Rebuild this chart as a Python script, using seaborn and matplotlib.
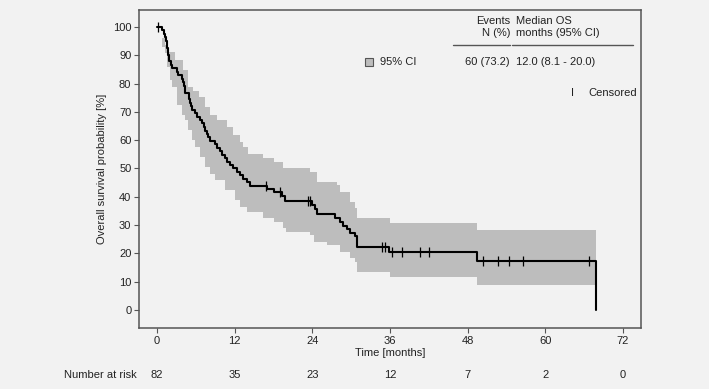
import numpy as np
import matplotlib
matplotlib.use("Agg")
import matplotlib.pyplot as plt
from matplotlib.lines import Line2D
from matplotlib.patches import Rectangle
import seaborn as sns

# Kaplan-Meier steps (time in months, survival in %)
km_time = [0, 0.7, 1.0, 1.2, 1.35, 1.5, 1.6, 1.7, 1.8, 1.9, 2.1, 2.25, 3.0, 3.3,
           3.9, 4.0, 4.1, 4.3, 4.9, 5.0, 5.1, 5.25, 5.4, 5.9, 6.1, 6.6, 7.0, 7.2,
           7.4, 7.7, 7.9, 8.2, 9.0, 9.2, 9.7, 10.0, 10.5, 10.8, 11.3, 11.8, 12.3,
           12.8, 13.3, 13.9, 14.3, 17.0, 18.0, 19.3, 19.8, 23.9, 24.4, 24.7, 27.5,
           28.3, 28.8, 29.3, 29.8, 30.6, 30.9, 35.9, 49.4, 67.8]
km_surv = [100, 98.8, 97.6, 96.3, 95.1, 93.9, 92.7, 90.2, 89.0, 87.8, 86.6, 85.4,
           84.1, 82.9, 81.7, 80.5, 79.3, 76.8, 75.6, 74.4, 73.2, 72.0, 70.7, 69.5,
           68.3, 67.1, 65.9, 64.6, 63.4, 62.2, 61.0, 59.8, 58.5, 57.3, 56.1, 54.9,
           53.7, 52.4, 51.2, 50.0, 48.8, 47.6, 46.3, 45.1, 43.9, 42.8, 41.6, 40.3,
           38.6, 37.1, 35.5, 33.8, 32.4, 31.1, 29.8, 28.6, 27.3, 26.0, 22.4, 20.6,
           17.3, 0]

# censored observations
cens_time = [0.1, 16.9, 19.0, 23.4, 23.6, 34.8, 35.3, 36.3, 37.8, 40.6, 42.1,
             50.3, 52.7, 54.4, 56.5, 66.7]
cens_surv = [100, 43.9, 41.6, 38.6, 38.6, 22.4, 22.4, 20.6, 20.6, 20.6, 20.6,
             17.3, 17.3, 17.3, 17.3, 17.3]

# 95% confidence band (step function)
ci_time = [0.7, 1.2, 1.5, 1.75, 2.0, 2.27, 2.8, 3.0, 3.8, 4.07, 4.3, 4.84, 5.4,
           5.6, 5.9, 6.4, 6.6, 7.4, 8.2, 9.0, 9.2, 10.5, 10.8, 11.8, 12.1, 12.8,
           13.3, 13.9, 14.1, 16.4, 18.0, 19.5, 20.0, 23.6, 24.2, 24.7, 26.2, 27.8,
           28.3, 29.8, 30.6, 30.9, 36.0, 49.4, 67.8]
ci_low = [93, 90.7, 86, 86, 81.3, 78.9, 78.9, 72.4, 68.9, 68.9, 67.1, 63.6, 60.1,
          60.1, 57.7, 57.7, 54.2, 50.6, 48.0, 45.9, 45.9, 42.4, 42.4, 42.4, 38.9,
          36.5, 36.5, 34.7, 34.7, 32.4, 31.2, 28.9, 27.7, 26.5, 24.1, 24.1, 23.0,
          23.0, 20.6, 18.3, 17.1, 13.5, 11.8, 8.8, 8.8]
ci_high = [96, 93.6, 93.6, 91.3, 91.3, 91.3, 88.3, 88.3, 88.3, 84.8, 84.8, 78.9,
           78.9, 77.5, 77.5, 75.4, 75.4, 71.8, 68.9, 68.9, 67.1, 67.1, 64.8, 61.8,
           61.8, 59.5, 57.4, 57.4, 55.2, 53.6, 52.4, 50.0, 50.0, 48.6, 48.6, 45.3,
           45.3, 44.2, 41.8, 38.3, 35.9, 32.4, 30.6, 28.3, 28.3]

risk_time = [0, 12, 24, 36, 48, 60, 72]
risk_n = [82, 35, 23, 12, 7, 2, 0]

BG = "#f2f2f2"
EDGE = "#555555"
BAND = "#bdbdbd"

sns.set_theme(style="ticks")
plt.rcParams["font.family"] = ["Liberation Sans", "DejaVu Sans"]
plt.rcParams["font.size"] = 8

W, H = 709, 389
fig = plt.figure(figsize=(W / 100, H / 100), dpi=100, facecolor=BG)
ax = fig.add_axes([139 / W, 1 - 328 / H, (641 - 139) / W, (328 - 10) / H])
ax.set_facecolor(BG)

ax.fill_between(ci_time, ci_low, ci_high, step="post", color=BAND, linewidth=0)
sns.lineplot(x=km_time, y=km_surv, drawstyle="steps-post", estimator=None,
             color="black", linewidth=1.5, ax=ax)
ax.plot(cens_time, cens_surv, linestyle="none", marker="|", markersize=7,
        markeredgewidth=0.9, color="black")

ax.set_xlim(-2.8, 74.8)
ax.set_ylim(-6.4, 106)
ax.set_xticks(np.arange(0, 73, 12))
ax.set_yticks(np.arange(0, 101, 10))
ax.tick_params(axis="both", length=3.5, width=0.8, color=EDGE, labelsize=8,
               pad=2, labelcolor="#222222")
for s in ax.spines.values():
    s.set_color(EDGE)
    s.set_linewidth(1.1)

ax.set_xlabel("Time [months]", fontsize=8, labelpad=2, color="#222222")
ax.set_ylabel("Overall survival probability [%]", fontsize=8, labelpad=4,
              color="#222222")

# number at risk row
tr = ax.get_xaxis_transform()
for t, n in zip(risk_time, risk_n):
    ax.text(t, -0.148, str(n), transform=tr, ha="center", va="center",
            fontsize=8, color="#222222")
fig.text(137 / W, 1 - 375 / H, "Number at risk", ha="right", va="center",
         fontsize=8, color="#222222")


def fx(x):
    return x / W


def fy(y):
    return 1 - y / H


# header table
txt = dict(fontsize=8, color="#222222", va="center")
fig.text(fx(510), fy(21.5), "Events", ha="right", **txt)
fig.text(fx(510), fy(33.5), "N (%)", ha="right", **txt)
fig.text(fx(515.5), fy(21.5), "Median OS", ha="left", **txt)
fig.text(fx(515.5), fy(33.5), "months (95% CI)", ha="left", **txt)
fig.add_artist(Line2D([fx(452.5), fx(510)], [fy(45), fy(45)], color=EDGE, lw=1))
fig.add_artist(Line2D([fx(512), fx(633)], [fy(45), fy(45)], color=EDGE, lw=1))
fig.text(fx(510), fy(62), "60 (73.2)", ha="right", **txt)
fig.text(fx(515.5), fy(62), "12.0 (8.1 - 20.0)", ha="left", **txt)

# legend entries
fig.add_artist(Rectangle((fx(365), fy(65.5)), 8 / W, 8 / H, facecolor=BAND,
                         edgecolor=EDGE, linewidth=0.8))
fig.text(fx(380), fy(62), "95% CI", ha="left", **txt)
fig.text(fx(572), fy(92.5), "I", ha="center", **txt)
fig.text(fx(588), fy(92.5), "Censored", ha="left", **txt)

fig.savefig("out.png", dpi=100, facecolor=BG)
